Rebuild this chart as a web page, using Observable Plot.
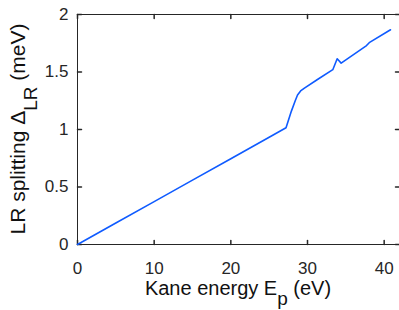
<!DOCTYPE html>
<html>
<head>
<meta charset="utf-8">
<script src="https://cdn.jsdelivr.net/npm/d3@7"></script>
<script src="https://cdn.jsdelivr.net/npm/@observablehq/plot@0.6"></script>
<style>
  html, body { margin: 0; padding: 0; background: #fff; }
  #chart { width: 399px; height: 310px; }
</style>
</head>
<body>
<div id="chart"></div>
<script>
// Kane energy Ep (eV)
const kaneEnergy = [0, 5, 10, 15, 20, 25, 27.2, 27.9, 28.4, 28.7, 29.1, 29.6, 31.3, 33.3, 33.87, 34.39, 37.7, 38.05, 40.83];
// LR splitting (meV)
const lrSplitting = [0, 0.187, 0.373, 0.56, 0.746, 0.933, 1.015, 1.16, 1.25, 1.30, 1.335, 1.36, 1.435, 1.52, 1.615, 1.577, 1.73, 1.755, 1.867];
const xTicks = [0, 10, 20, 30, 40];
const yTicks = [0, 0.5, 1, 1.5, 2];
const yTickLabels = ["0", "0.5", "1", "1.5", "2"];
const xLimits = [0, 42];
const yLimits = [0, 2];

const data = kaneEnergy.map((x, i) => ({x, y: lrSplitting[i]}));
const font = "'Liberation Sans', Arial, Helvetica, sans-serif";
const ink = "#262626";
const tickShape = {draw(context, l) { context.moveTo(0, 0); context.lineTo(0, -l); }};

const plot = Plot.plot({
  width: 399,
  height: 310,
  marginLeft: 77,
  marginRight: 0,
  marginTop: 14,
  marginBottom: 66,
  style: {fontFamily: font, background: "#fff", color: ink},
  x: {domain: xLimits},
  y: {domain: yLimits},
  marks: [
    // box
    Plot.ruleY(yLimits, {stroke: ink, strokeWidth: 1}),
    Plot.ruleX(xLimits, {stroke: ink, strokeWidth: 1}),
    // inward ticks
    Plot.vector(xTicks, {x: (d) => d, y: yLimits[0], length: 4, rotate: 0, anchor: "start", shape: tickShape, stroke: ink}),
    Plot.vector(xTicks, {x: (d) => d, y: yLimits[1], length: 4, rotate: 180, anchor: "start", shape: tickShape, stroke: ink}),
    Plot.vector(yTicks, {x: xLimits[0], y: (d) => d, length: 4, rotate: 90, anchor: "start", shape: tickShape, stroke: ink}),
    Plot.vector(yTicks, {x: xLimits[1], y: (d) => d, length: 4, rotate: -90, anchor: "start", shape: tickShape, stroke: ink}),
    // tick labels
    Plot.axisX(xTicks, {anchor: "bottom", tickSize: 0, tickPadding: 17, fontSize: 17, label: null, fill: ink}),
    Plot.axisY(yTicks, {anchor: "left", tickSize: 0, tickPadding: 9, fontSize: 17, label: null, fill: ink,
      tickFormat: (d) => yTickLabels[yTicks.indexOf(d)]}),
    Plot.line(data, {x: "x", y: "y", stroke: "#0f5bff", strokeWidth: 1.6})
  ]
});
document.getElementById("chart").appendChild(plot);

const svg = d3.select(plot);
// x-axis label with subscript
const xl = svg.append("text")
  .attr("x", 238).attr("y", 295)
  .attr("text-anchor", "middle")
  .attr("font-family", font).attr("font-size", 20).attr("fill", "#111");
xl.append("tspan").text("Kane energy E");
xl.append("tspan").attr("dy", 10).attr("font-size", 19).text("p");
xl.append("tspan").attr("dy", -10).text(" (eV)");

// y-axis label with subscript
const yl = svg.append("text")
  .attr("transform", "translate(25,129) rotate(-90)")
  .attr("text-anchor", "middle")
  .attr("font-family", font).attr("font-size", 21).attr("fill", "#111");
yl.append("tspan").text("LR splitting Δ");
yl.append("tspan").attr("dy", 12).attr("font-size", 19).text("LR");
yl.append("tspan").attr("dy", -12).text(" (meV)");
</script>
</body>
</html>
